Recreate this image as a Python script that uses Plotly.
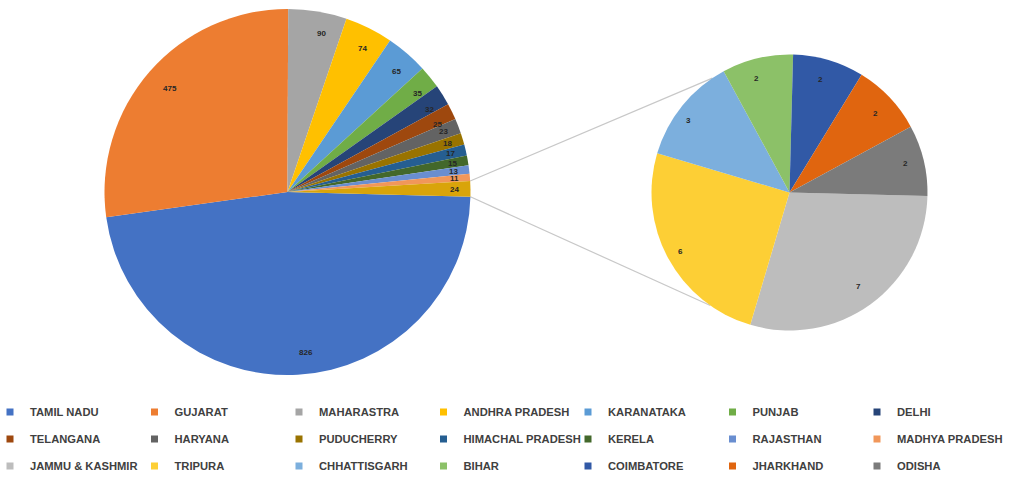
import math
import plotly.graph_objects as go

# ---------------- data ----------------
main_states = ["TAMIL NADU", "GUJARAT", "MAHARASTRA", "ANDHRA PRADESH", "KARANATAKA",
               "PUNJAB", "DELHI", "TELANGANA", "HARYANA", "PUDUCHERRY",
               "HIMACHAL PRADESH", "KERELA", "RAJASTHAN", "MADHYA PRADESH"]
main_values = [826, 475, 90, 74, 65, 35, 32, 25, 23, 18, 17, 15, 13, 11]
main_colors = ["#4472C4", "#ED7D31", "#A5A5A5", "#FFC000", "#5B9BD5", "#70AD47",
               "#264478", "#9E480E", "#636363", "#997300", "#255E91", "#43682B",
               "#698ED0", "#F1975A"]

small_states = ["JAMMU & KASHMIR", "TRIPURA", "CHHATTISGARH", "BIHAR",
                "COIMBATORE", "JHARKHAND", "ODISHA"]
small_values = [7, 6, 3, 2, 2, 2, 2]
small_colors = ["#BDBDBD", "#FDCF35", "#7CAFDD", "#8CC168", "#3159A6", "#E0650F", "#7B7B7B"]

other_label = "OTHER"
other_color = "#D9A40A"

# ---------------- geometry (pixels) ----------------
W, H = 1018, 480
ML, MR, MT, MB = 20, 0, 0, 100
PW, PH = W - ML - MR, H - MT - MB

def px_x(px):
    return (px - ML) / PW

def px_y(py):
    return (PH + MT - py) / PH

main_c = (287.5, 192.0)
main_r = 183.0
small_c = (789.5, 192.5)
small_r = 138.0
ROT = 91.5  # clockwise degrees from 12 o'clock where first slice starts

def domain(c, r):
    return dict(x=[px_x(c[0] - r), px_x(c[0] + r)], y=[px_y(c[1] + r), px_y(c[1] - r)])

pie_main_labels = main_states + [other_label]
pie_main_values = main_values + [sum(small_values)]
pie_main_colors = main_colors + [other_color]

fig = go.Figure()
fig.add_trace(go.Pie(labels=pie_main_labels, values=pie_main_values, sort=False,
                     direction="clockwise", rotation=ROT,
                     marker=dict(colors=pie_main_colors, line=dict(width=0)),
                     textinfo="none", hoverinfo="label+value", showlegend=False,
                     domain=domain(main_c, main_r)))
fig.add_trace(go.Pie(labels=small_states, values=small_values, sort=False,
                     direction="clockwise", rotation=ROT,
                     marker=dict(colors=small_colors, line=dict(width=0)),
                     textinfo="none", hoverinfo="label+value", showlegend=False,
                     domain=domain(small_c, small_r)))

# ---------------- value labels computed from the data ----------------
annotations = []
label_font = dict(size=8, color="#262626", family="Liberation Sans", weight="bold")

def slice_labels(values, c, r, frac):
    total = float(sum(values))
    start = 90.0 - ROT
    cum = 0.0
    out = []
    for v in values:
        mid = start - (cum + v / 2.0) / total * 360.0
        cum += v
        a = math.radians(mid)
        out.append((c[0] + frac * r * math.cos(a), c[1] - frac * r * math.sin(a)))
    return out

for (x, y), v in zip(slice_labels(pie_main_values, main_c, main_r, 0.915), pie_main_values):
    annotations.append(dict(x=px_x(x), y=px_y(y), xref="paper", yref="paper", text=str(v),
                            showarrow=False, font=label_font))
for (x, y), v in zip(slice_labels(small_values, small_c, small_r, 0.9), small_values):
    annotations.append(dict(x=px_x(x), y=px_y(y), xref="paper", yref="paper", text=str(v),
                            showarrow=False, font=label_font))

# ---------------- connector lines ----------------
total_main = float(sum(pie_main_values))
start_deg = 90.0 - ROT
other_share = pie_main_values[-1] / total_main * 360.0
a_low = math.radians(start_deg)
a_up = math.radians(start_deg + other_share)
p_up = (main_c[0] + main_r * math.cos(a_up), main_c[1] - main_r * math.sin(a_up))
p_low = (main_c[0] + main_r * math.cos(a_low), main_c[1] - main_r * math.sin(a_low))
s_up_a, s_low_a = math.radians(124), math.radians(-125)
q_up = (small_c[0] + small_r * math.cos(s_up_a), small_c[1] - small_r * math.sin(s_up_a))
q_low = (small_c[0] + small_r * math.cos(s_low_a), small_c[1] - small_r * math.sin(s_low_a))
shapes = []
for p, q in [(p_up, q_up), (p_low, q_low)]:
    shapes.append(dict(type="line", xref="paper", yref="paper",
                       x0=px_x(p[0]), y0=px_y(p[1]), x1=px_x(q[0]), y1=px_y(q[1]),
                       line=dict(color="#C8C8C8", width=1.2), layer="below"))

# ---------------- legend (3 rows, 7 columns) ----------------
all_states = main_states + small_states
all_colors = main_colors + small_colors
legend_ids = ["legend", "legend2", "legend3"]
for i, (name, col) in enumerate(zip(all_states, all_colors)):
    last_col = (i % 7) == 6
    fig.add_trace(go.Scatter(x=[None], y=[None], mode="markers", name=name,
                             marker=dict(symbol="square", size=7, color=col),
                             legend=legend_ids[i // 7], hoverinfo="skip",
                             legendwidth=110.5 if last_col else None))

row_centers = [412, 439, 466]
legend_font = dict(family="Liberation Sans", size=11.2, color="#404040", weight="bold")
leg_common = dict(orientation="h", x=px_x(-10), xanchor="left", yanchor="middle",
                  entrywidth=99.5, entrywidthmode="pixels", font=legend_font,
                  bgcolor="rgba(0,0,0,0)", borderwidth=0, traceorder="normal")
layout_legends = {}
for lid, yc in zip(legend_ids, row_centers):
    layout_legends[lid] = dict(leg_common, y=px_y(yc))

fig.update_layout(
    width=W, height=H,
    margin=dict(l=ML, r=MR, t=MT, b=MB, autoexpand=False),
    paper_bgcolor="white", plot_bgcolor="white",
    xaxis=dict(visible=False), yaxis=dict(visible=False),
    annotations=annotations, shapes=shapes,
    **layout_legends,
)

fig.write_html("out.html", config={"displayModeBar": False},
               post_script="document.body.style.margin='0';document.body.style.overflow='hidden';")
